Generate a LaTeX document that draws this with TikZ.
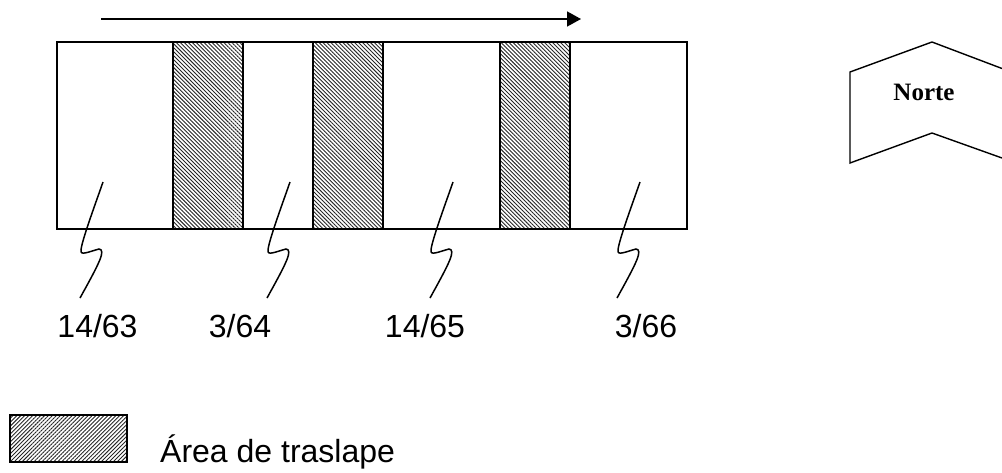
\documentclass[tikz,border=0pt]{standalone}
\usepackage{fontspec}
\setmainfont{Liberation Sans}
\newfontfamily\normfont{Liberation Serif}
\usetikzlibrary{patterns.meta,arrows.meta}
\tikzset{
  frame/.style={draw=black,line width=1.6pt},
  hatchA/.style={draw=black,line width=1.6pt,pattern={Lines[angle=-45,distance=2.8pt,line width=0.9pt]},pattern color=black!85},
  hatchB/.style={draw=black,line width=1.6pt,pattern={Lines[angle=45,distance=2.8pt,line width=0.9pt]},pattern color=black!85},
  zigline/.style={draw=black,line width=1.5pt},
  lab/.style={inner sep=0pt,font=\fontsize{32}{36}\selectfont},
}
\begin{document}
\begin{tikzpicture}[x=1pt,y=-1pt]
\useasboundingbox (0,0) rectangle (1002,472);
% direction arrow
\coordinate (a0) at (101,19);
\coordinate (a1) at (581,19);
\draw[line width=1.6pt,-{Triangle[length=14pt,width=15pt]}] (a0) -- (a1);
% main strip
\draw[frame] (57,42) rectangle (687,229);
\draw[hatchA] (173,42) rectangle (243,229);
\draw[hatchA] (313,42) rectangle (383,229);
\draw[hatchA] (500,42) rectangle (570,229);
% labels
\node[lab] (l1) at (97.5,326) {14/63};
\node[lab] (l2) at (240,326) {3/64};
\node[lab] (l3) at (425,326) {14/65};
\node[lab] (l4) at (646,326) {3/66};
% squiggles
\coordinate (z1) at (103,182);
\coordinate (z2) at (290,182);
\coordinate (z3) at (453,182);
\coordinate (z4) at (640,182);
\foreach \z in {z1,z2,z3,z4}{
  \draw[zigline,shift={(\z)}] (0,0) .. controls (-8,23) and (-21,58) .. (-22,68)
     .. controls (-23,74) and (-15,70) .. (-4,67)
     .. controls (3,68) and (-3,80) .. (-23,116);
}
% north marker
\draw[line width=1.4pt] (1002,68.5) -- (932,42) -- (850,72) -- (850,163) -- (932,133) -- (1002,158);
\node[inner sep=0pt,font=\normfont\bfseries\fontsize{25}{30}\selectfont] (norte) at (924,92) {Norte};
% legend
\draw[hatchB] (10,415) rectangle (127,462);
\node[lab,anchor=base west] (leg) at (160,462) {Área de traslape};
\end{tikzpicture}
\end{document}
